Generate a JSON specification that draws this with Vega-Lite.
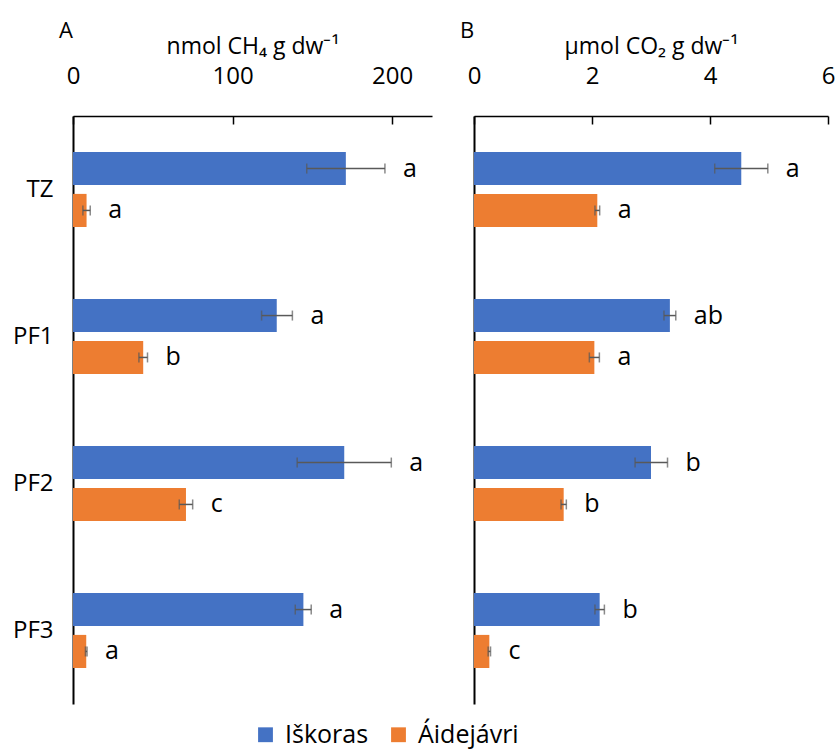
{
  "$schema": "https://vega.github.io/schema/vega-lite/v6.json",
  "padding": {"left": 12, "top": 20, "right": 0, "bottom": 4},
  "background": "white",
  "bounds": "flush",
  "config": {
    "font": "Open Sans",
    "view": {"stroke": null},
    "axis": {"grid": false, "domainColor": "black", "tickColor": "black", "labelColor": "black", "titleColor": "black", "titleFontWeight": "normal"}
  },
  "datasets": {
    "d": [
      {"panel": "A", "site": "TZ", "location": "Iškoras", "value": 171, "lo": 146.5, "hi": 195.5, "letter": "a"},
      {"panel": "A", "site": "TZ", "location": "Áidejávri", "value": 8.5, "lo": 6.2, "hi": 10.8, "letter": "a"},
      {"panel": "A", "site": "PF1", "location": "Iškoras", "value": 127.7, "lo": 118.2, "hi": 137.5, "letter": "a"},
      {"panel": "A", "site": "PF1", "location": "Áidejávri", "value": 44, "lo": 41.3, "hi": 46.7, "letter": "b"},
      {"panel": "A", "site": "PF2", "location": "Iškoras", "value": 170, "lo": 140.5, "hi": 199.5, "letter": "a"},
      {"panel": "A", "site": "PF2", "location": "Áidejávri", "value": 70.8, "lo": 66.6, "hi": 75, "letter": "c"},
      {"panel": "A", "site": "PF3", "location": "Iškoras", "value": 144.4, "lo": 139.3, "hi": 149.3, "letter": "a"},
      {"panel": "A", "site": "PF3", "location": "Áidejávri", "value": 8.3, "lo": 7.8, "hi": 8.8, "letter": "a"},
      {"panel": "B", "site": "TZ", "location": "Iškoras", "value": 4.53, "lo": 4.08, "hi": 4.98, "letter": "a"},
      {"panel": "B", "site": "TZ", "location": "Áidejávri", "value": 2.09, "lo": 2.05, "hi": 2.13, "letter": "a"},
      {"panel": "B", "site": "PF1", "location": "Iškoras", "value": 3.32, "lo": 3.22, "hi": 3.42, "letter": "ab"},
      {"panel": "B", "site": "PF1", "location": "Áidejávri", "value": 2.04, "lo": 1.955, "hi": 2.125, "letter": "a"},
      {"panel": "B", "site": "PF2", "location": "Iškoras", "value": 3.0, "lo": 2.73, "hi": 3.28, "letter": "b"},
      {"panel": "B", "site": "PF2", "location": "Áidejávri", "value": 1.52, "lo": 1.475, "hi": 1.565, "letter": "b"},
      {"panel": "B", "site": "PF3", "location": "Iškoras", "value": 2.13, "lo": 2.05, "hi": 2.21, "letter": "b"},
      {"panel": "B", "site": "PF3", "location": "Áidejávri", "value": 0.26, "lo": 0.24, "hi": 0.28, "letter": "c"}
    ]
  },
  "spacing": 42,
  "resolve": {"scale": {"color": "shared"}},
  "hconcat": [
    {
      "width": 359,
      "height": 588,
      "title": {"text": "A", "anchor": "start", "frame": "group", "fontSize": 22, "fontWeight": "normal", "dx": -14, "offset": -8},
      "data": {"name": "d"},
      "transform": [{"filter": "datum.panel == 'A'"}],
      "encoding": {
        "y": {"field": "site", "type": "nominal", "sort": ["TZ", "PF1", "PF2", "PF3"], "scale": {"paddingInner": 0.49, "paddingOuter": 0.245}, "axis": {"title": null, "labelFontSize": 24, "ticks": false, "labelPadding": 20, "domainWidth": 2}},
        "yOffset": {"field": "location", "type": "nominal", "sort": ["Iškoras", "Áidejávri"], "scale": {"paddingInner": 0.21, "paddingOuter": 0}}
      },
      "layer": [
        {
          "mark": {"type": "bar"},
          "encoding": {
            "x": {"field": "value", "type": "quantitative", "scale": {"domain": [0, 225], "nice": false},
              "axis": {"orient": "top", "title": "nmol CH₄ g dw⁻¹", "titleFontSize": 23, "titlePadding": 6, "labelFontSize": 24, "values": [0, 100, 200], "format": "d", "tickSize": -8, "tickWidth": 1.5, "domainWidth": 1.5, "labelPadding": 36, "labelFlush": false}},
            "color": {"field": "location", "type": "nominal", "sort": ["Iškoras", "Áidejávri"],
              "scale": {"domain": ["Iškoras", "Áidejávri"], "range": ["#4472C4", "#ED7D31"]},
              "legend": {"title": null, "orient": "none", "legendX": 180, "legendY": 606, "direction": "horizontal", "symbolType": "square", "symbolSize": 220, "symbolStrokeWidth": 0, "labelFontSize": 25, "columnPadding": 17, "labelOffset": 7}}
          }
        },
        {"mark": {"type": "rule", "color": "#595959", "strokeWidth": 1.5}, "encoding": {"x": {"field": "lo", "type": "quantitative"}, "x2": {"field": "hi"}}},
        {"mark": {"type": "tick", "color": "#595959", "thickness": 1.5, "size": 10}, "encoding": {"x": {"field": "lo", "type": "quantitative"}}},
        {"mark": {"type": "tick", "color": "#595959", "thickness": 1.5, "size": 10}, "encoding": {"x": {"field": "hi", "type": "quantitative"}}},
        {"mark": {"type": "text", "align": "left", "baseline": "middle", "dx": 18, "fontSize": 25, "color": "black"}, "encoding": {"x": {"field": "hi", "type": "quantitative"}, "text": {"field": "letter"}}}
      ]
    },
    {
      "width": 354,
      "height": 588,
      "title": {"text": "B", "anchor": "start", "frame": "group", "fontSize": 22, "fontWeight": "normal", "dx": -14, "offset": -8},
      "data": {"name": "d"},
      "transform": [{"filter": "datum.panel == 'B'"}],
      "encoding": {
        "y": {"field": "site", "type": "nominal", "sort": ["TZ", "PF1", "PF2", "PF3"], "scale": {"paddingInner": 0.49, "paddingOuter": 0.245}, "axis": {"title": null, "labels": false, "ticks": false, "domainWidth": 2}},
        "yOffset": {"field": "location", "type": "nominal", "sort": ["Iškoras", "Áidejávri"], "scale": {"paddingInner": 0.21, "paddingOuter": 0}}
      },
      "layer": [
        {
          "mark": {"type": "bar"},
          "encoding": {
            "x": {"field": "value", "type": "quantitative", "scale": {"domain": [0, 6], "nice": false},
              "axis": {"orient": "top", "title": "µmol CO₂ g dw⁻¹", "titleFontSize": 23, "titlePadding": 6, "labelFontSize": 24, "values": [0, 2, 4, 6], "format": "d", "tickSize": -8, "tickWidth": 1.5, "domainWidth": 1.5, "labelPadding": 36, "labelFlush": false}},
            "color": {"field": "location", "type": "nominal", "sort": ["Iškoras", "Áidejávri"]}
          }
        },
        {"mark": {"type": "rule", "color": "#595959", "strokeWidth": 1.5}, "encoding": {"x": {"field": "lo", "type": "quantitative"}, "x2": {"field": "hi"}}},
        {"mark": {"type": "tick", "color": "#595959", "thickness": 1.5, "size": 10}, "encoding": {"x": {"field": "lo", "type": "quantitative"}}},
        {"mark": {"type": "tick", "color": "#595959", "thickness": 1.5, "size": 10}, "encoding": {"x": {"field": "hi", "type": "quantitative"}}},
        {"mark": {"type": "text", "align": "left", "baseline": "middle", "dx": 18, "fontSize": 25, "color": "black"}, "encoding": {"x": {"field": "hi", "type": "quantitative"}, "text": {"field": "letter"}}}
      ]
    }
  ]
}
